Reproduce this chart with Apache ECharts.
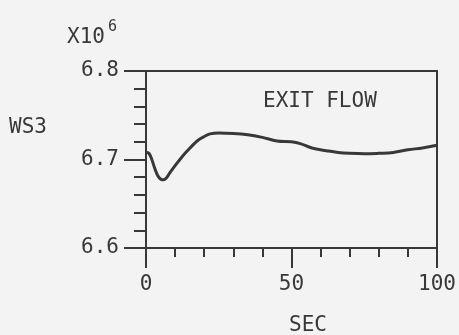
<!DOCTYPE html>
<html>
<head>
<meta charset="utf-8">
<script src="https://cdn.jsdelivr.net/npm/echarts@6/dist/echarts.min.js"></script>
<style>
html,body{margin:0;padding:0;background:#f3f3f3;}
#c{width:459px;height:335px;}
</style>
</head>
<body>
<div id="c"></div>
<script>
const times = [0,1,2,3,4,5,6,7,8,10,12,14,16,18,20,22,25,30,35,40,45,50,53,57,62,66,70,75,80,85,90,95,100];
const ws3 = [6.708,6.707,6.700,6.690,6.682,6.678,6.677,6.679,6.684,6.693,6.7015,6.709,6.716,6.722,6.726,6.729,6.730,6.7295,6.728,6.725,6.721,6.720,6.718,6.713,6.710,6.708,6.707,6.7065,6.707,6.708,6.711,6.713,6.716];
const yTicks = [6.6, 6.7, 6.8];
const xTicks = [0, 50, 100];
const labels = {title: 'EXIT FLOW', yName: 'WS3', xName: 'SEC', scale: 'X10', scaleExp: '6'};

const ink = '#383838';
const font = 'DejaVu Sans Mono';
const chart = echarts.init(document.getElementById('c'));
chart.setOption({
  backgroundColor: '#f3f3f3',
  animation: false,
  grid: {left: 146, top: 71, right: 22, bottom: 87, show: true, borderColor: ink, borderWidth: 2, backgroundColor: 'transparent'},
  xAxis: {
    type: 'value', min: 0, max: 100, interval: 50,
    axisLine: {show: true, lineStyle: {color: ink, width: 2}},
    axisTick: {show: true, inside: false, length: 20, lineStyle: {color: ink, width: 2}},
    minorTick: {show: true, splitNumber: 5, length: 9, lineStyle: {color: ink, width: 2}},
    splitLine: {show: false},
    axisLabel: {color: ink, fontFamily: font, fontSize: 21, margin: 26,
      formatter: v => xTicks.includes(v) ? String(v) : ''}
  },
  yAxis: {
    type: 'value', min: 6.6, max: 6.8, interval: 0.1,
    axisLine: {show: true, lineStyle: {color: ink, width: 2}},
    axisTick: {show: true, inside: false, length: 22, lineStyle: {color: ink, width: 2}},
    minorTick: {show: true, splitNumber: 5, length: 12, lineStyle: {color: ink, width: 2}},
    splitLine: {show: false},
    axisLabel: {color: ink, fontFamily: font, fontSize: 21, margin: 27,
      formatter: v => { const t = yTicks.find(k => Math.abs(k - v) < 1e-6); return t !== undefined ? t.toFixed(1) : ''; }}
  },
  series: [{
    type: 'line', smooth: 0.4, symbol: 'none',
    data: times.map((t, i) => [t, ws3[i]]),
    lineStyle: {color: ink, width: 3}
  }],
  graphic: [
    {type: 'text', left: 263, top: 91, style: {text: labels.title, fill: ink, font: '21px "DejaVu Sans Mono"'}},
    {type: 'text', left: 9, top: 117, style: {text: labels.yName, fill: ink, font: '21px "DejaVu Sans Mono"'}},
    {type: 'text', left: 289, top: 315, style: {text: labels.xName, fill: ink, font: '21px "DejaVu Sans Mono"'}},
    {type: 'text', left: 67, top: 27, style: {text: labels.scale, fill: ink, font: '21px "DejaVu Sans Mono"'}},
    {type: 'text', left: 108, top: 20, style: {text: labels.scaleExp, fill: ink, font: '15px "DejaVu Sans Mono"'}}
  ]
});
</script>
</body>
</html>
